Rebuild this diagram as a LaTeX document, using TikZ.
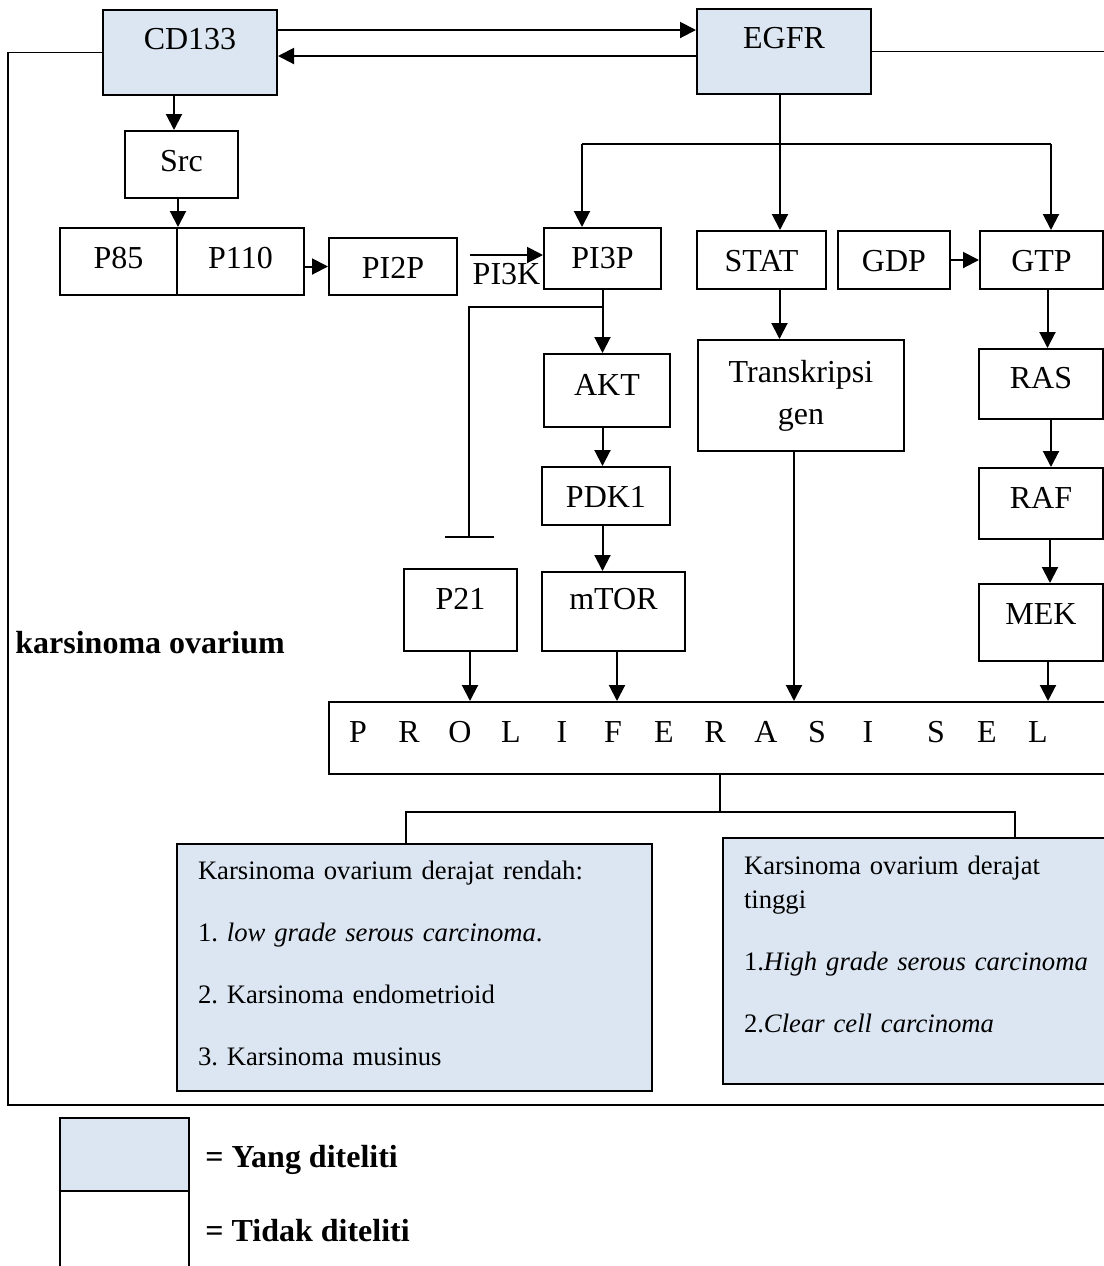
\documentclass[tikz,border=0pt]{standalone}
\usepackage{fontspec}
\setmainfont{Liberation Serif}
\usetikzlibrary{arrows.meta}

\definecolor{seenblue}{RGB}{220,230,242}
\newcommand{\lettercell}[1]{\makebox[25.5pt]{#1}}
\frenchspacing

\tikzset{
  cell/.style={draw, line width=1pt, inner xsep=0pt, inner ysep=0pt, anchor=north west,
    font=\fontsize{16}{21}\selectfont},
  seen/.style={cell, fill=seenblue},
  arr/.style={line width=1pt, -{Triangle[length=8pt, width=8pt]}},
  frame/.style={line width=0.8pt},
  link/.style={line width=0.6pt},
  boldtext/.style={anchor=base west, inner sep=0pt, font=\fontsize{16}{19}\selectfont\bfseries},
}

\begin{document}
\begin{tikzpicture}[x=0.5pt, y=-0.5pt]
    \useasboundingbox (0,0) rectangle (1104,1266);

    % Receptors
    \node[seen, minimum width=87pt, text height=19.75pt, text depth=22.75pt] (cd133) at (102,9) {CD133};
    \node[seen, minimum width=87pt, text height=19.75pt, text depth=22.75pt] (egfr) at (696,8) {EGFR};

    % PI3K pathway
    \node[cell, minimum width=56.5pt, text height=20pt, text depth=13.5pt] (src) at (124,130) {Src};
    \node[cell, minimum width=58.5pt, text height=20pt, text depth=13.5pt] (p85) at (59,227) {P85};
    \node[cell, minimum width=63.5pt, text height=20pt, text depth=13.5pt] (p110) at (176,227) {P110};
    \node[cell, minimum width=64pt, text height=20pt, text depth=8.5pt] (pi2p) at (328,237) {PI2P};
    \node[cell, minimum width=58.5pt, text height=20pt, text depth=10.5pt] (pi3p) at (543,227) {PI3P};
    \node[cell, minimum width=63pt, text height=20.5pt, text depth=16pt] (akt) at (543,353) {AKT};
    \node[cell, minimum width=64pt, text height=20pt, text depth=9pt] (pdk1) at (541,466) {PDK1};
    \node[cell, minimum width=71.5pt, text height=18.5pt, text depth=21pt] (mtor) at (541,571) {mTOR};
    \node[cell, minimum width=56.5pt, text height=20pt, text depth=21pt] (p21) at (403,568) {P21};

    % STAT pathway
    \node[cell, minimum width=64.5pt, text height=20pt, text depth=9pt] (stat) at (696,230) {STAT};
    \node[cell, minimum width=103pt, minimum height=55.5pt, align=center] (trans) at (697,339) {Transkripsi\\gen};

    % RAS pathway
    \node[cell, minimum width=56pt, text height=20pt, text depth=9pt] (gdp) at (837,230) {GDP};
    \node[cell, minimum width=61.5pt, text height=20pt, text depth=9pt] (gtp) at (979,230) {GTP};
    \node[cell, minimum width=62pt, text height=19.5pt, text depth=15.5pt] (ras) at (978,348) {RAS};
    \node[cell, minimum width=62pt, text height=20pt, text depth=15.5pt] (raf) at (978,467) {RAF};
    \node[cell, minimum width=62pt, text height=20pt, text depth=18.5pt] (mek) at (978,583) {MEK};

    % Outcome
    \node[cell, text width=387.5pt, inner xsep=1.75pt, align=left, text height=20pt, text depth=16pt] (prolif) at (328,701)
      {\lettercell{P}\lettercell{R}\lettercell{O}\lettercell{L}\lettercell{I}\lettercell{F}\lettercell{E}\lettercell{R}\lettercell{A}\lettercell{S}\lettercell{I}\hspace{8.5pt}\lettercell{S}\lettercell{E}\lettercell{L}};
    \node[seen, text width=216.5pt, inner xsep=10.5pt, align=left, font=\fontsize{13.33}{31}\selectfont,
      text height=17.5pt, text depth=106pt] (low) at (176,843)
      {Karsinoma ovarium derajat rendah:\\1. \textit{low grade serous carcinoma}.\\2. Karsinoma endometrioid\\3. Karsinoma musinus};
    \node[seen, text width=183pt, inner xsep=10.5pt, align=left, font=\fontsize{13.33}{17}\selectfont,
      text height=18pt, text depth=105pt] (high) at (722,837)
      {Karsinoma ovarium derajat\\tinggi\\[14pt]1.\textit{High grade serous carcinoma}\\[14pt]2.\textit{Clear cell carcinoma}};
    \node[boldtext] (ko) at (15,653) {karsinoma ovarium};

    % Frame
    \draw[frame] (cd133.west) -| (8,1105) -- (1130,1105);
    \draw[frame] (egfr.east) -- ++(260,0);

    % Receptor cross-talk
    \draw[arr] ([yshift=11.25pt]cd133.east) -- ([yshift=11.25pt]cd133.east -| egfr.west);
    \draw[arr] ([yshift=-2.25pt]egfr.west) -- ([yshift=-2.25pt]egfr.west -| cd133.east);

    % CD133 branch
    \draw[arr] ([xshift=-8pt]cd133.south) -- ([xshift=-8pt]cd133.south |- src.north);
    \draw[arr] (src.south -| p85.east) -- (p85.north east);
    \draw[arr] (p110.east |- pi2p.west) -- (pi2p.west);
    \coordinate (pi3kin) at ([xshift=6pt, yshift=5.75pt]pi2p.east);
    \draw[arr] (pi3kin) -- (pi3kin -| pi3p.west) node[midway, anchor=base, yshift=-14.5pt, font=\fontsize{16}{19}\selectfont] {PI3K};

    % EGFR branch
    \coordinate (forkL) at (582,144);
    \coordinate (forkR) at (1051,144);
    \draw[arr] ([xshift=-2pt]egfr.south) -- ([xshift=-2pt]egfr.south |- stat.north);
    \draw[line width=1pt] (forkL) -- (forkR);
    \draw[arr] (forkL) -- (forkL |- pi3p.north);
    \draw[arr] (forkR) -- (forkR |- gtp.north);

    % PI3P cascade
    \draw[arr] (pi3p.south) -- (pi3p.south |- akt.north);
    \draw[arr] (pi3p.south |- akt.south) -- (pi3p.south |- pdk1.north);
    \draw[arr] (pi3p.south |- pdk1.south) -- (pi3p.south |- mtor.north);
    \coordinate (block) at (469,538);
    \draw[line width=1pt, -{Bar[width=24.5pt]}] ([yshift=-8.5pt]pi3p.south) -| (block);

    % STAT and RAS cascades
    \draw[arr] ([xshift=9pt]stat.south) -- ([xshift=9pt]stat.south |- trans.north);
    \draw[arr] (gdp.east) -- (gtp.west);
    \draw[arr] ([xshift=3pt]gtp.south) -- ([xshift=3pt]gtp.south |- ras.north);
    \draw[arr] ([xshift=5pt]ras.south) -- ([xshift=5pt]ras.south |- raf.north);
    \draw[arr] ([xshift=4.5pt]raf.south) -- ([xshift=4.5pt]raf.south |- mek.north);

    % Into proliferation
    \draw[arr] ([xshift=4.75pt]p21.south) -- ([xshift=4.75pt]p21.south |- prolif.north);
    \draw[arr] ([xshift=1.75pt]mtor.south) -- ([xshift=1.75pt]mtor.south |- prolif.north);
    \draw[arr] ([xshift=-3.5pt]trans.south) -- ([xshift=-3.5pt]trans.south |- prolif.north);
    \draw[arr] ([xshift=3.5pt]mek.south) -- ([xshift=3.5pt]mek.south |- prolif.north);

    % Split to carcinoma types
    \coordinate (splitL) at (406,812);
    \coordinate (splitR) at (1015,812);
    \draw[link] (prolif.south) |- (splitL) -- (splitL |- low.north);
    \draw[link] (splitL) -- (splitR) -- (splitR |- high.north);

    % Legend
    \node[seen, minimum width=64.5pt, minimum height=36.5pt] (legseen) at (59,1117) {};
    \node[cell, minimum width=64.5pt, minimum height=50pt] (legnot) at (59,1190) {};
    \node[boldtext] (seenlbl) at (205,1167) {= Yang diteliti};
    \node[boldtext] (notlbl) at (205,1241) {= Tidak diteliti};
\end{tikzpicture}
\end{document}
